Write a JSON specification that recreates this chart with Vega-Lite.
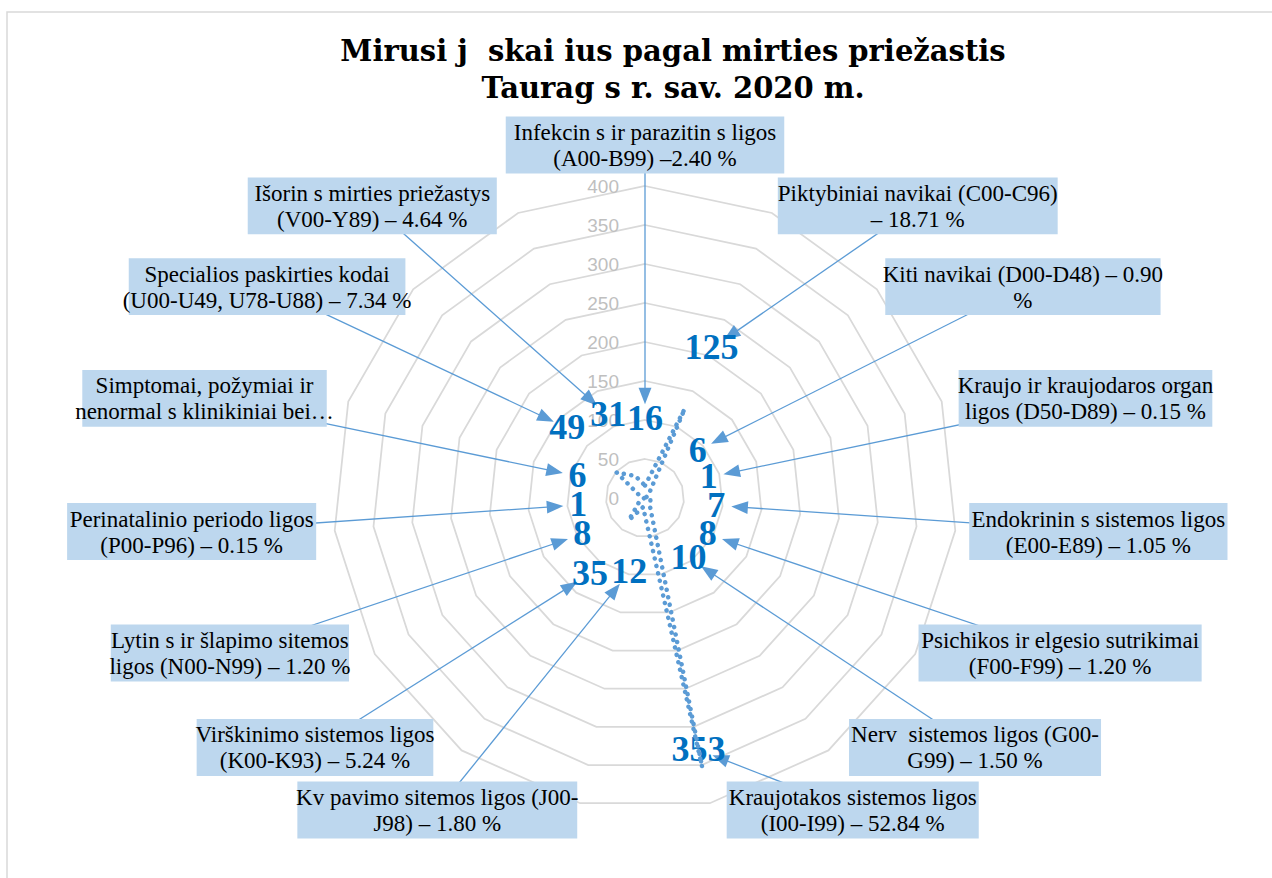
{
  "$schema": "https://vega.github.io/schema/vega-lite/v6.json",
  "width": 1270,
  "height": 871,
  "autosize": {"type": "none"},
  "padding": {"left": 7, "top": 12, "right": -5, "bottom": -5},
  "background": "white",
  "config": {"view": {"stroke": "#D9D9D9", "strokeWidth": 1.5}},
  "title": {
    "text": ["Mirusi\u00a0j\u00a0 skai\u00a0ius pagal mirties priežastis", "Taurag\u00a0s r. sav. 2020 m."],
    "font": "DejaVu Serif",
    "fontSize": 29,
    "fontWeight": "bold",
    "color": "black",
    "anchor": "middle",
    "frame": "group",
    "offset": 0,
    "baseline": "alphabetic",
    "dx": 31,
    "dy": 115,
    "lineHeight": 37
  },
  "datasets": {
    "cats": [
      {"idx": 0, "deaths": 16, "lab": ["Infekcin s ir parazitin s ligos", "(A00-B99) –2.40 %"]},
      {"idx": 1, "deaths": 125, "lab": ["Piktybiniai navikai (C00-C96)", "– 18.71 %"]},
      {"idx": 2, "deaths": 6, "lab": ["Kiti navikai (D00-D48) – 0.90", "%"]},
      {"idx": 3, "deaths": 1, "lab": ["Kraujo ir kraujodaros organ", "ligos (D50-D89) – 0.15 %"]},
      {"idx": 4, "deaths": 7, "lab": ["Endokrinin s sistemos ligos", "(E00-E89) – 1.05 %"]},
      {"idx": 5, "deaths": 8, "lab": ["Psichikos ir elgesio sutrikimai", "(F00-F99) – 1.20 %"]},
      {"idx": 6, "deaths": 10, "lab": ["Nerv\u00a0 sistemos ligos (G00-", "G99) – 1.50 %"]},
      {"idx": 7, "deaths": 353, "lab": ["Kraujotakos sistemos ligos", "(I00-I99) – 52.84 %"]},
      {"idx": 8, "deaths": 12, "lab": ["Kv pavimo sitemos ligos (J00-", "J98) – 1.80 %"]},
      {"idx": 9, "deaths": 35, "lab": ["Virškinimo sistemos ligos", "(K00-K93) – 5.24 %"]},
      {"idx": 10, "deaths": 8, "lab": ["Lytin s ir šlapimo sitemos", "ligos (N00-N99) – 1.20 %"]},
      {"idx": 11, "deaths": 1, "lab": ["Perinatalinio periodo ligos", "(P00-P96) – 0.15 %"]},
      {"idx": 12, "deaths": 6, "lab": ["Simptomai, požymiai ir", "nenormal s klinikiniai bei…"]},
      {"idx": 13, "deaths": 49, "lab": ["Specialios paskirties kodai", "(U00-U49, U78-U88) – 7.34 %"]},
      {"idx": 14, "deaths": 31, "lab": ["Išorin s mirties priežastys", "(V00-Y89) – 4.64 %"]}
    ],
    "ticks": [
      {"level": 0}, {"level": 50}, {"level": 100}, {"level": 150}, {"level": 200},
      {"level": 250}, {"level": 300}, {"level": 350}, {"level": 400}
    ]
  },
  "data": {"name": "cats"},
  "transform": [
    {"calculate": "datum.idx*2*PI/15", "as": "th"},
    {"calculate": "datum.deaths*sin(datum.th)", "as": "dpx"},
    {"calculate": "datum.deaths*cos(datum.th)", "as": "dpy"},
    {"calculate": "min(datum.deaths+85,330)", "as": "lr"},
    {"calculate": "datum.lr*sin(datum.th)", "as": "lx"},
    {"calculate": "datum.lr*cos(datum.th)", "as": "ly"},
    {"calculate": "datum.idx==0 ? 0 : (datum.th < PI ? PI/2 + 0.8056*(datum.th-PI/2) : 1.5*PI + 0.8056*(datum.th-1.5*PI))", "as": "phi"},
    {"calculate": "583.3*sin(datum.phi)", "as": "bx"},
    {"calculate": "cos(datum.phi)*(452.6+76.9*(1-abs(cos(datum.phi))))*(cos(datum.phi) < 0 ? 0.975 : 1)", "as": "by"},
    {"calculate": "max(length(datum.lab[0])*0.47 - length(replace(datum.lab[0], regexp('[^ijltfr .,()-]','g'), ''))*0.2 + length(replace(datum.lab[0], regexp('[^A-Z%]','g'), ''))*0.2, length(datum.lab[1])*0.47 - length(replace(datum.lab[1], regexp('[^ijltfr .,()-]','g'), ''))*0.2 + length(replace(datum.lab[1], regexp('[^A-Z%]','g'), ''))*0.2)*23/0.78 + 10", "as": "bw"},
    {"calculate": "datum.bx-datum.bw/2", "as": "bx1"},
    {"calculate": "datum.bx+datum.bw/2", "as": "bx2"},
    {"calculate": "datum.by-36.5", "as": "by1"},
    {"calculate": "datum.by+36.5", "as": "by2"},
    {"calculate": "sqrt(pow(datum.bx-datum.lx,2)+pow(datum.by-datum.ly,2))", "as": "dl"},
    {"calculate": "datum.lx+(datum.bx-datum.lx)/datum.dl*31", "as": "ax"},
    {"calculate": "datum.ly+(datum.by-datum.ly)/datum.dl*31", "as": "ay"},
    {"calculate": "atan2(datum.lx-datum.bx, datum.ly-datum.by)*180/PI", "as": "ang"}
  ],
  "layer": [
    {
      "transform": [
        {"calculate": "[50,100,150,200,250,300,350,400]", "as": "lv"},
        {"flatten": ["lv"]},
        {"calculate": "datum.lv*sin(datum.th)", "as": "gx"},
        {"calculate": "datum.lv*cos(datum.th)", "as": "gy"}
      ],
      "mark": {"type": "line", "interpolate": "linear-closed", "stroke": "#D9D9D9", "strokeWidth": 1.75},
      "encoding": {
        "x": {"field": "gx", "type": "quantitative", "scale": {"domain": [-817.95, 810.26], "nice": false, "zero": false}, "axis": null},
        "y": {"field": "gy", "type": "quantitative", "scale": {"domain": [-493.59, 623.08], "nice": false, "zero": false}, "axis": null},
        "detail": {"field": "lv", "type": "nominal"},
        "order": {"field": "idx", "type": "quantitative"}
      }
    },
    {
      "data": {"name": "ticks"},
      "mark": {"type": "text", "align": "right", "baseline": "middle", "dx": -26, "dy": 1, "font": "Liberation Sans", "fontSize": 19, "color": "#BFBFBF"},
      "encoding": {
        "x": {"datum": 0, "type": "quantitative", "scale": {"domain": [-817.95, 810.26], "nice": false, "zero": false}, "axis": null},
        "y": {"field": "level", "type": "quantitative", "scale": {"domain": [-493.59, 623.08], "nice": false, "zero": false}, "axis": null},
        "text": {"field": "level", "type": "quantitative"}
      }
    },
    {
      "mark": {"type": "rule", "stroke": "#5B9BD5", "strokeWidth": 1.3},
      "encoding": {
        "x": {"field": "ax", "type": "quantitative", "scale": {"domain": [-817.95, 810.26], "nice": false, "zero": false}, "axis": null},
        "y": {"field": "ay", "type": "quantitative", "scale": {"domain": [-493.59, 623.08], "nice": false, "zero": false}, "axis": null},
        "x2": {"field": "bx"},
        "y2": {"field": "by"}
      }
    },
    {
      "mark": {"type": "point", "shape": "M0,-1L0.7,0.8L-0.7,0.8Z", "filled": true, "fill": "#5B9BD5", "opacity": 1, "size": 340, "strokeWidth": 0},
      "encoding": {
        "x": {"field": "ax", "type": "quantitative", "scale": {"domain": [-817.95, 810.26], "nice": false, "zero": false}, "axis": null},
        "y": {"field": "ay", "type": "quantitative", "scale": {"domain": [-493.59, 623.08], "nice": false, "zero": false}, "axis": null},
        "angle": {"field": "ang", "type": "quantitative", "scale": null}
      }
    },
    {
      "mark": {"type": "rect", "fill": "#BDD7EE"},
      "encoding": {
        "x": {"field": "bx1", "type": "quantitative", "scale": {"domain": [-817.95, 810.26], "nice": false, "zero": false}, "axis": null},
        "y": {"field": "by1", "type": "quantitative", "scale": {"domain": [-493.59, 623.08], "nice": false, "zero": false}, "axis": null},
        "x2": {"field": "bx2"},
        "y2": {"field": "by2"}
      }
    },
    {
      "mark": {"type": "text", "font": "Liberation Serif", "fontSize": 23, "lineHeight": 26, "align": "center", "baseline": "middle", "dy": -12, "color": "black"},
      "encoding": {
        "x": {"field": "bx", "type": "quantitative", "scale": {"domain": [-817.95, 810.26], "nice": false, "zero": false}, "axis": null},
        "y": {"field": "by", "type": "quantitative", "scale": {"domain": [-493.59, 623.08], "nice": false, "zero": false}, "axis": null},
        "text": {"field": "lab"}
      }
    },
    {
      "mark": {"type": "text", "font": "Liberation Serif", "fontSize": 36, "fontWeight": "bold", "align": "center", "baseline": "middle", "color": "#0070C0"},
      "encoding": {
        "x": {"field": "lx", "type": "quantitative", "scale": {"domain": [-817.95, 810.26], "nice": false, "zero": false}, "axis": null},
        "y": {"field": "ly", "type": "quantitative", "scale": {"domain": [-493.59, 623.08], "nice": false, "zero": false}, "axis": null},
        "text": {"field": "deaths", "type": "quantitative"}
      }
    },
    {
      "mark": {"type": "line", "interpolate": "linear-closed", "stroke": "#5B9BD5", "strokeWidth": 4.5, "strokeDash": [0.1, 7.5], "strokeCap": "round"},
      "encoding": {
        "x": {"field": "dpx", "type": "quantitative", "scale": {"domain": [-817.95, 810.26], "nice": false, "zero": false}, "axis": null},
        "y": {"field": "dpy", "type": "quantitative", "scale": {"domain": [-493.59, 623.08], "nice": false, "zero": false}, "axis": null},
        "order": {"field": "idx", "type": "quantitative"}
      }
    }
  ]
}
